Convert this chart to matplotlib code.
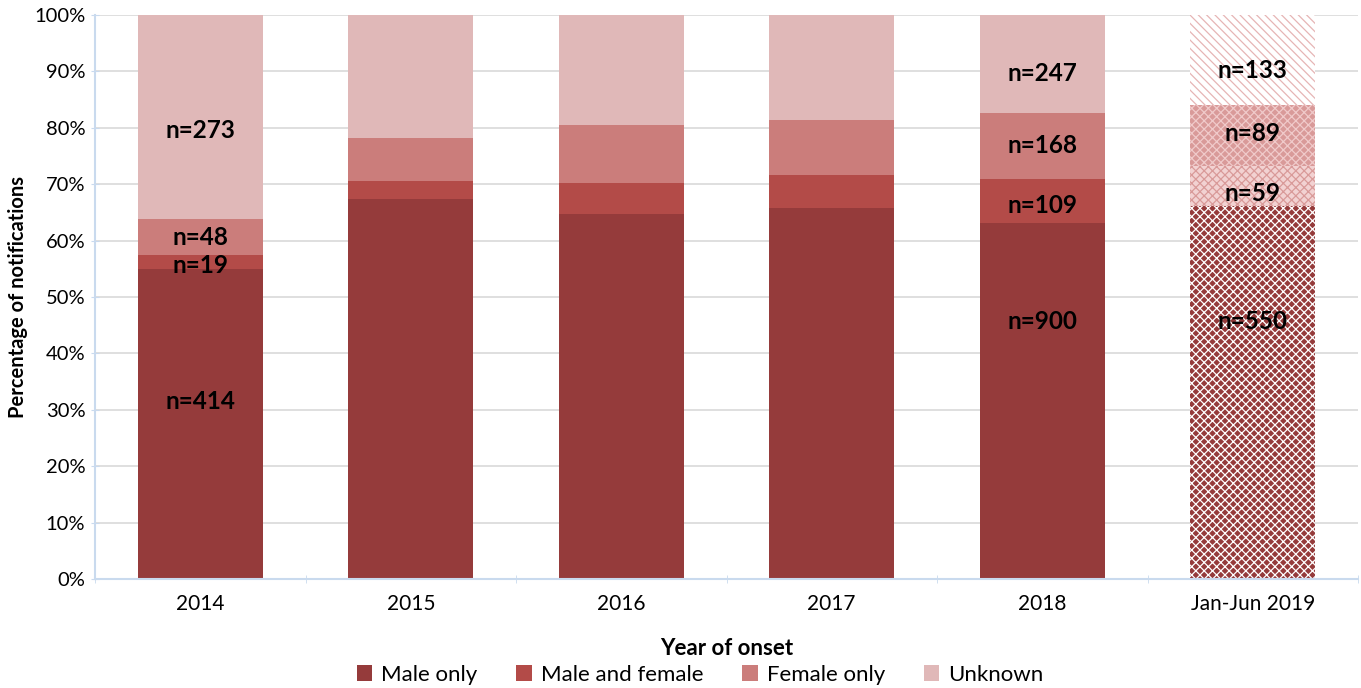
import numpy as np
import matplotlib.pyplot as plt
from matplotlib.patches import Patch

plt.rcParams['font.family'] = ['Lato', 'DejaVu Sans']
plt.rcParams['hatch.linewidth'] = 0.9

years = ["2014", "2015", "2016", "2017", "2018", "Jan-Jun 2019"]
groups = ["Male only", "Male and female", "Female only", "Unknown"]

# notification counts where they are reported
counts = {
    "2014": [414, 19, 48, 273],
    "2018": [900, 109, 168, 247],
    "Jan-Jun 2019": [550, 59, 89, 133],
}
# percentage split for years without counts
shares = {
    "2015": [67.3, 3.3, 7.6, 21.8],
    "2016": [64.7, 5.6, 10.2, 19.5],
    "2017": [65.8, 5.8, 9.7, 18.7],
}

colors = ["#953B3B", "#B34B48", "#CB7D7B", "#E0B8B8"]

pct = []
for y in years:
    if y in counts:
        c = np.array(counts[y], dtype=float)
        pct.append(c / c.sum() * 100)
    else:
        pct.append(np.array(shares[y]))
pct = np.array(pct)

fig = plt.figure(figsize=(13.61, 6.88), dpi=100)
ax = fig.add_axes([95 / 1361, 1 - 579 / 688, 1263 / 1361, 564 / 688])

x = np.arange(len(years))
width = 0.595
bottom = np.zeros(len(years))
for i, g in enumerate(groups):
    vals = pct[:, i]
    # solid bars for full years
    ax.bar(x[:-1], vals[:-1], width, bottom=bottom[:-1], color=colors[i],
           linewidth=0, zorder=2)
    bottom[:-1] += vals[:-1]

# partial year drawn with patterned fills
hatch_style = [
    ("#953B3B", "white", "xxxx"),
    ("#F2D2D2", "#D99A99", "xxxx"),
    ("#D99A99", "#F0CACA", "xxxx"),
    ("white", "#E6B5B5", "\\\\\\\\"),
]
b = 0
for i, (fc, hc, h) in enumerate(hatch_style):
    v = pct[-1, i]
    ax.bar(x[-1], v, width, bottom=b, facecolor=fc, edgecolor=hc, hatch=h,
           linewidth=0, zorder=2)
    b += v

# count labels (percent height of each text)
label_pos = {
    "2014": [31.4, 55.6, 60.6, 79.5],
    "2018": [45.6, 66.2, 76.8, 89.6],
    "Jan-Jun 2019": [45.6, 68.3, 79.0, 90.2],
}
for y, ys in label_pos.items():
    j = years.index(y)
    for k, yy in enumerate(ys):
        ax.text(x[j], yy, f"n={counts[y][k]}", ha="center", va="center",
                fontsize=17.5, fontweight="bold", color="black", zorder=3)

ax.set_xlim(-0.5, len(years) - 0.5)
ax.set_ylim(0, 100)
ax.set_yticks(np.arange(0, 101, 10))
ax.set_yticklabels([f"{t}%" for t in range(0, 101, 10)], fontsize=14.5)
ax.set_xticks(x)
ax.set_xticklabels(years, fontsize=15)
ax.tick_params(axis="x", length=0, pad=11)
ax.tick_params(axis="y", length=6, color="#C9DAEE", direction="inout", pad=4)
ax.set_xticks(np.arange(-0.5, len(years), 1), minor=True)
ax.tick_params(axis="x", which="minor", length=6, color="#C9DAEE", direction="inout")

ax.grid(axis="y", color="#D9D9D9", linewidth=1.2, zorder=0)
ax.set_axisbelow(True)
for s in ["top", "right"]:
    ax.spines[s].set_visible(False)
ax.spines["left"].set_color("#C9DAEE")
ax.spines["bottom"].set_color("#C9DAEE")
ax.spines["left"].set_linewidth(1.5)
ax.spines["bottom"].set_linewidth(1.5)

ax.set_ylabel("Percentage of notifications", fontsize=14.5, fontweight="bold", labelpad=4)
ax.set_xlabel("Year of onset", fontsize=16, fontweight="bold", labelpad=17)

handles = [Patch(facecolor=c, edgecolor="none") for c in colors]
fig.legend(handles, groups, loc="center", bbox_to_anchor=(700 / 1361, 1 - 675 / 688),
           ncol=4, frameon=False, fontsize=16, handlelength=0.7, handleheight=0.7,
           columnspacing=1.75, handletextpad=0.4)

fig.savefig("out.png", dpi=100)
